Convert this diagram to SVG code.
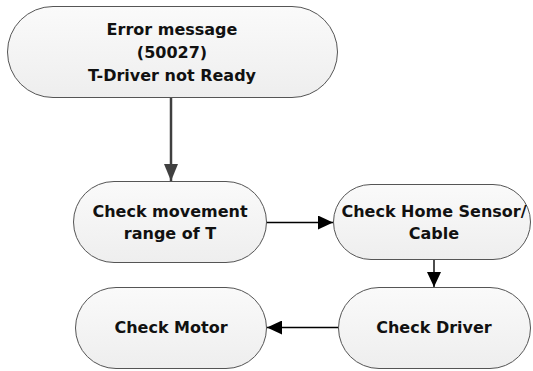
<svg xmlns="http://www.w3.org/2000/svg" width="533" height="371" viewBox="0 0 533 371">
<defs>
<linearGradient id="fillg" x1="0" y1="0" x2="0" y2="1">
<stop offset="0" stop-color="#fafafa"/>
<stop offset="1" stop-color="#eeeeee"/>
</linearGradient>
<marker id="ahBig" markerWidth="17" markerHeight="14" refX="17" refY="7" orient="auto" markerUnits="userSpaceOnUse">
<path d="M0,0 L17,7 L0,14 Z" fill="#404040"/>
</marker>
<marker id="ah" markerWidth="15" markerHeight="14" refX="15" refY="7" orient="auto" markerUnits="userSpaceOnUse">
<path d="M0,0 L15,7 L0,14 Z" fill="#000"/>
</marker>
<style>
.node rect{fill:url(#fillg);stroke:#555;stroke-width:1}
.node text{font-family:"DejaVu Sans","Liberation Sans",sans-serif;font-weight:bold;font-size:16px;fill:#111;text-anchor:middle}
.conn{fill:none;stroke:#000;stroke-width:1.4}
</style>
</defs>
<rect width="533" height="371" fill="#fff"/>
<g id="connectors">
<line x1="171" y1="97" x2="171" y2="181" stroke="#404040" stroke-width="2.5" marker-end="url(#ahBig)"/>
<line class="conn" x1="266" y1="222.5" x2="333" y2="222.5" marker-end="url(#ah)"/>
<line class="conn" x1="434" y1="259" x2="434" y2="287" marker-end="url(#ah)"/>
<line class="conn" x1="338" y1="327.5" x2="267" y2="327.5" marker-end="url(#ah)"/>
</g>
<g id="n-error" class="node">
<rect x="7.5" y="6.5" width="330" height="91" rx="45.5" ry="45.5"/>
<text x="172" y="35">Error message</text>
<text x="172" y="58">(50027)</text>
<text x="172" y="81">T-Driver not Ready</text>
</g>
<g id="n-movement" class="node">
<rect x="73.5" y="181.5" width="193" height="81" rx="40.5" ry="40.5"/>
<text x="170" y="217">Check movement</text>
<text x="170" y="239">range of T</text>
</g>
<g id="n-home" class="node">
<rect x="333.5" y="184.5" width="197" height="75" rx="37.5" ry="37.5"/>
<text x="434" y="217">Check Home Sensor/</text>
<text x="434" y="239">Cable</text>
</g>
<g id="n-driver" class="node">
<rect x="338.5" y="287.5" width="192" height="81" rx="40.5" ry="40.5"/>
<text x="434" y="333">Check Driver</text>
</g>
<g id="n-motor" class="node">
<rect x="75.5" y="287.5" width="191" height="81" rx="40.5" ry="40.5"/>
<text x="171" y="333">Check Motor</text>
</g>
</svg>
